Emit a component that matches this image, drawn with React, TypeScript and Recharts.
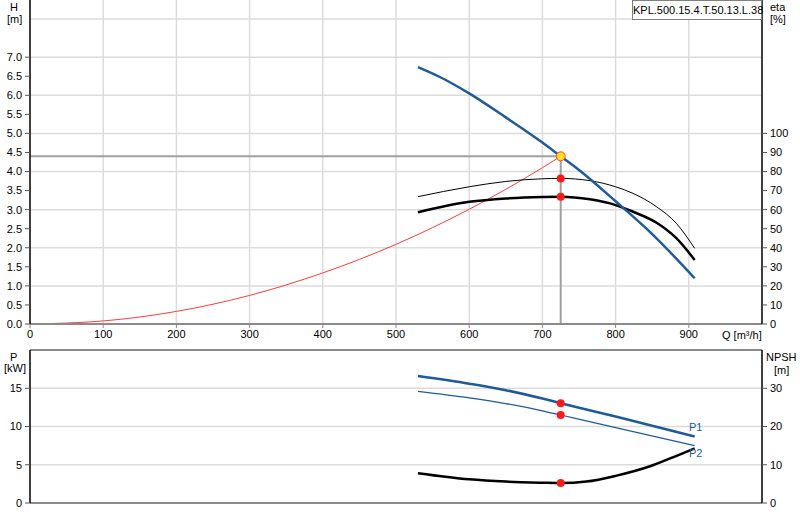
import React from 'react';
import { ComposedChart, Line, Scatter, XAxis, YAxis, CartesianGrid, ReferenceLine } from 'recharts';

// Q axis
const Q_TICKS = [0, 100, 200, 300, 400, 500, 600, 700, 800, 900];
const Q_GRID = [100, 200, 300, 400, 500, 600, 700, 800, 900];

// top panel axes
const H_TICKS = [0, 0.5, 1, 1.5, 2, 2.5, 3, 3.5, 4, 4.5, 5, 5.5, 6, 6.5, 7];
const H_GRID = [0.5, 1, 1.5, 2, 2.5, 3, 3.5, 4, 4.5, 5, 5.5, 6, 6.5, 7, 7.5, 8];
const ETA_TICKS = [0, 10, 20, 30, 40, 50, 60, 70, 80, 90, 100];

// bottom panel axes
const P_TICKS = [0, 5, 10, 15];
const P_GRID = [5, 10, 15];
const NPSH_TICKS = [0, 10, 20, 30];

// pump head curve
const HEAD_Q = [530, 560, 600, 650, 700, 725, 750, 800, 850, 908];
const HEAD_H = [6.74, 6.48, 6.05, 5.42, 4.76, 4.4, 4.04, 3.22, 2.36, 1.2];

// system curve
const SYS_Q = [0, 100, 200, 300, 400, 500, 600, 700, 725];
const SYS_H = [0, 0.08, 0.33, 0.75, 1.34, 2.09, 3.01, 4.1, 4.4];

// efficiencies
const ETA_Q = [530, 600, 650, 700, 725, 765, 800, 824, 856, 883, 908];
const ETA_HYD = [66.8, 72, 74.8, 76.2, 76.4, 75.2, 72, 68.5, 61.5, 52.8, 39.7];
const ETA_TOT = [58.6, 64.1, 65.9, 66.7, 66.8, 65.4, 62.4, 58.9, 53.1, 45, 33.6];

// power + npsh
const P_Q = [530, 600, 650, 700, 725, 800, 908];
const P1 = [16.6, 15.6, 14.75, 13.65, 13.05, 11.3, 8.7];
const P2 = [14.6, 13.75, 13.0, 12.05, 11.5, 9.85, 7.5];
const NPSH_Q = [530, 600, 650, 700, 725, 760, 800, 847, 879, 908];
const NPSH = [7.8, 6.2, 5.6, 5.3, 5.2, 5.6, 7.1, 9.6, 12, 14.3];

// duty point
const OP_Q = 725;
const OP_H = 4.4;
const OP_ETA_HYD = 76.4;
const OP_ETA_TOT = 66.8;
const OP_P1 = 13.05;
const OP_P2 = 11.5;
const OP_NPSH = 5.2;

const BLUE = '#1f5a99';
const GRID = '#dcdcdc';
const AXIS_GRAY = '#8a8a8a';
const tickStyle = { fill: '#000', fontSize: 11 };

const zip = (qs: number[], vs: number[]) => qs.map((q, i) => ({ q, v: vs[i] }));

const headData = zip(HEAD_Q, HEAD_H);
const sysData = zip(SYS_Q, SYS_H);
const etaHydData = zip(ETA_Q, ETA_HYD);
const etaTotData = zip(ETA_Q, ETA_TOT);
const p1Data = zip(P_Q, P1);
const p2Data = zip(P_Q, P2);
const npshData = zip(NPSH_Q, NPSH);

const RedDot = (props: any) => <circle cx={props.cx} cy={props.cy} r={4} fill="#ff1a1a" />;
const DutyDot = (props: any) => (
    <circle cx={props.cx} cy={props.cy} r={4.5} fill="#ffe020" stroke="#ff4040" strokeWidth={1} />
);

const lbl = (left: number, top: number, text: string, extra: React.CSSProperties = {}) => (
    <div style={{ position: 'absolute', left, top, fontSize: 11, lineHeight: '12px', whiteSpace: 'nowrap', ...extra }}>{text}</div>
);

const App = () => {
    return (
        <div style={{ position: 'absolute', left: 0, top: 0, width: 800, height: 520, background: '#fff', fontFamily: '"Liberation Sans", Arial, sans-serif' }}>
            {/* Head / efficiency */}
            <div style={{ position: 'absolute', left: 0, top: 0 }}>
                <ComposedChart width={800} height={345} margin={{ top: 0, right: 0, bottom: 0, left: 0 }}>
                    <CartesianGrid yAxisId="h" stroke={GRID} strokeWidth={1.5} verticalValues={Q_GRID} horizontalValues={H_GRID} />
                    <XAxis dataKey="q" type="number" domain={[0, 1000]} ticks={Q_TICKS} allowDataOverflow height={21}
                        axisLine={{ stroke: AXIS_GRAY, strokeWidth: 2 }} tickLine={{ stroke: AXIS_GRAY }} tickSize={4} tickMargin={2} tick={tickStyle} />
                    <YAxis yAxisId="h" type="number" domain={[0, 8.5]} ticks={H_TICKS} width={30} allowDataOverflow
                        axisLine={{ stroke: '#000', strokeWidth: 1.5 }} tickLine={{ stroke: '#555' }} tickSize={5} tickMargin={3}
                        tick={tickStyle} tickFormatter={(v: number) => v.toFixed(1)} />
                    <YAxis yAxisId="eta" orientation="right" type="number" domain={[0, 170]} ticks={ETA_TICKS} width={38} allowDataOverflow
                        axisLine={{ stroke: '#000', strokeWidth: 1.5 }} tickLine={{ stroke: '#555' }} tickSize={5} tickMargin={3} tick={tickStyle} />

                    <ReferenceLine yAxisId="h" segment={[{ x: 0, y: OP_H }, { x: OP_Q, y: OP_H }]} stroke="#a0a0a0" strokeWidth={2} />
                    <ReferenceLine yAxisId="h" segment={[{ x: OP_Q, y: 0 }, { x: OP_Q, y: OP_H }]} stroke="#a0a0a0" strokeWidth={2} />

                    <Line yAxisId="h" data={sysData} dataKey="v" type="monotone" stroke="#ff3b3b" strokeWidth={1} dot={false} isAnimationActive={false} />
                    <Line yAxisId="eta" data={etaHydData} dataKey="v" type="monotone" stroke="#000" strokeWidth={1} dot={false} isAnimationActive={false} />
                    <Line yAxisId="eta" data={etaTotData} dataKey="v" type="monotone" stroke="#000" strokeWidth={2.5} dot={false} isAnimationActive={false} />
                    <Line yAxisId="h" data={headData} dataKey="v" type="monotone" stroke={BLUE} strokeWidth={2.5} dot={false} isAnimationActive={false} />

                    <Scatter yAxisId="eta" data={[{ q: OP_Q, v: OP_ETA_HYD }, { q: OP_Q, v: OP_ETA_TOT }]} dataKey="v" shape={RedDot} isAnimationActive={false} />
                    <Scatter yAxisId="h" data={[{ q: OP_Q, v: OP_H }]} dataKey="v" shape={DutyDot} isAnimationActive={false} />
                </ComposedChart>
            </div>

            {/* Power / NPSH */}
            <div style={{ position: 'absolute', left: 0, top: 345 }}>
                <ComposedChart width={800} height={175} margin={{ top: 5, right: 0, bottom: 0, left: 0 }}>
                    <CartesianGrid yAxisId="p" stroke={GRID} strokeWidth={1.5} verticalValues={Q_GRID} horizontalValues={P_GRID} />
                    <XAxis dataKey="q" type="number" domain={[0, 1000]} ticks={Q_TICKS} allowDataOverflow height={17}
                        axisLine={{ stroke: AXIS_GRAY, strokeWidth: 2 }} tick={false} tickLine={false} />
                    <YAxis yAxisId="p" type="number" domain={[0, 20]} ticks={P_TICKS} width={30} allowDataOverflow
                        axisLine={{ stroke: '#000', strokeWidth: 1.5 }} tickLine={{ stroke: '#555' }} tickSize={5} tickMargin={3} tick={tickStyle} />
                    <YAxis yAxisId="n" orientation="right" type="number" domain={[0, 40]} ticks={NPSH_TICKS} width={38} allowDataOverflow
                        axisLine={{ stroke: '#000', strokeWidth: 1.5 }} tickLine={{ stroke: '#555' }} tickSize={5} tickMargin={3} tick={tickStyle} />

                    <ReferenceLine yAxisId="p" y={20} stroke={AXIS_GRAY} strokeWidth={2} />

                    <Line yAxisId="p" data={p1Data} dataKey="v" type="monotone" stroke={BLUE} strokeWidth={2.5} dot={false} isAnimationActive={false} />
                    <Line yAxisId="p" data={p2Data} dataKey="v" type="monotone" stroke={BLUE} strokeWidth={1.2} dot={false} isAnimationActive={false} />
                    <Line yAxisId="n" data={npshData} dataKey="v" type="monotone" stroke="#000" strokeWidth={2.5} dot={false} isAnimationActive={false} />

                    <Scatter yAxisId="p" data={[{ q: OP_Q, v: OP_P1 }, { q: OP_Q, v: OP_P2 }]} dataKey="v" shape={RedDot} isAnimationActive={false} />
                    <Scatter yAxisId="n" data={[{ q: OP_Q, v: OP_NPSH }]} dataKey="v" shape={RedDot} isAnimationActive={false} />
                </ComposedChart>
            </div>

            {/* axis titles and labels */}
            {lbl(10, 1, 'H')}
            {lbl(7, 13, '[m]')}
            {lbl(770, 1, 'eta')}
            {lbl(770, 13, '[%]')}
            {lbl(722, 329, 'Q [m³/h]')}
            {lbl(10, 351, 'P')}
            {lbl(4, 362, '[kW]')}
            {lbl(766, 351, 'NPSH')}
            {lbl(774, 364, '[m]')}
            {lbl(689, 421, 'P1', { color: BLUE })}
            {lbl(689, 447, 'P2', { color: BLUE })}
            <div style={{ position: 'absolute', left: 632, top: 0, width: 128, height: 18, border: '1px solid #808080', background: '#fff', fontSize: 11, lineHeight: '18px', textAlign: 'center' }}>
                KPL.500.15.4.T.50.13.L.38
            </div>
        </div>
    );
};

export default App;
